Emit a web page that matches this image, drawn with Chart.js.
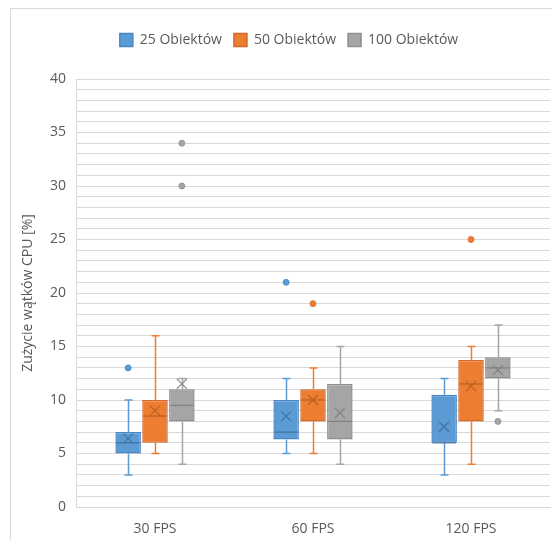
<!DOCTYPE html>
<html>
<head>
<meta charset="utf-8">
<script src="https://cdn.jsdelivr.net/npm/chart.js@4/dist/chart.umd.min.js"></script>
<style>
  html, body { margin: 0; padding: 0; background: #ffffff; }
  #wrap { width: 552px; height: 540px; position: relative; }
</style>
</head>
<body>
<div id="wrap"><canvas id="c" width="552" height="540"></canvas></div>
<script>
// Categories and series
const categories = ['30 FPS', '60 FPS', '120 FPS'];
const seriesNames = ['25 Obiektów', '50 Obiektów', '100 Obiektów'];

// 25 objects
const min25  = [3, 5, 3];
const q1_25  = [5, 6.3, 6];
const med25  = [6, 7, 6];
const q3_25  = [7, 10, 10.5];
const max25  = [10, 12, 12];
const mean25 = [6.4, 8.5, 7.5];
const out25  = [[13], [21], []];

// 50 objects
const min50  = [5, 5, 4];
const q1_50  = [6, 8, 8];
const med50  = [8.5, 10, 11.5];
const q3_50  = [10, 11, 13.75];
const max50  = [16, 13, 15];
const mean50 = [9, 10, 11.3];
const out50  = [[], [19], [25]];

// 100 objects
const min100  = [4, 4, 9];
const q1_100  = [8, 6.3, 12];
const med100  = [9.5, 8, 13];
const q3_100  = [11, 11.5, 14];
const max100  = [12, 15, 17];
const mean100 = [11.5, 8.8, 12.8];
const out100  = [[30, 34], [], [8]];

// Axis
const yMin = 0, yMax = 40, yStep = 1, yLabelEvery = 5;

const palette = [
  { fill: '#5B9BD5', edge: '#4A86C2', dark: '#41719C' },
  { fill: '#ED7D31', edge: '#D4692A', dark: '#B85F22' },
  { fill: '#A5A5A5', edge: '#8E8E8E', dark: '#7F7F7F' }
];

function makeSet(i, q1, q3, min, med, max, mean, out) {
  return {
    label: seriesNames[i],
    data: categories.map((_, k) => [q1[k], q3[k]]),
    backgroundColor: palette[i].fill,
    borderColor: palette[i].edge,
    borderWidth: 1.5,
    borderSkipped: false,
    categoryPercentage: 0.51,
    barPercentage: 0.95,
    stats: { min, med, max, mean, out },
    colors: palette[i]
  };
}

const datasets = [
  makeSet(0, q1_25, q3_25, min25, med25, max25, mean25, out25),
  makeSet(1, q1_50, q3_50, min50, med50, max50, mean50, out50),
  makeSet(2, q1_100, q3_100, min100, med100, max100, mean100, out100)
];

// Whiskers behind the boxes; medians, means and outliers on top
const boxWhiskers = {
  id: 'boxWhiskers',
  beforeDatasetsDraw(chart) {
    const ctx = chart.ctx, y = chart.scales.y;
    chart.data.datasets.forEach((ds, d) => {
      const meta = chart.getDatasetMeta(d);
      if (meta.hidden) return;
      meta.data.forEach((el, k) => {
        const x = Math.round(el.x) + 0.5;
        const [q1, q3] = ds.data[k];
        const yMinP = y.getPixelForValue(ds.stats.min[k]);
        const yMaxP = y.getPixelForValue(ds.stats.max[k]);
        const capW = 4;
        ctx.save();
        ctx.strokeStyle = ds.colors.fill;
        ctx.lineWidth = 1.5;
        ctx.beginPath();
        ctx.moveTo(x, y.getPixelForValue(q3)); ctx.lineTo(x, yMaxP);
        ctx.moveTo(x - capW, yMaxP); ctx.lineTo(x + capW, yMaxP);
        ctx.moveTo(x, y.getPixelForValue(q1)); ctx.lineTo(x, yMinP);
        ctx.moveTo(x - capW, yMinP); ctx.lineTo(x + capW, yMinP);
        ctx.stroke();
        ctx.restore();
      });
    });
  },
  afterDatasetsDraw(chart) {
    const ctx = chart.ctx, y = chart.scales.y;
    chart.data.datasets.forEach((ds, d) => {
      const meta = chart.getDatasetMeta(d);
      if (meta.hidden) return;
      meta.data.forEach((el, k) => {
        const x = el.x, half = el.width / 2;
        ctx.save();
        // median
        const ym = y.getPixelForValue(ds.stats.med[k]);
        ctx.strokeStyle = ds.colors.dark;
        ctx.lineWidth = 1.2;
        ctx.beginPath();
        ctx.moveTo(x - half + 1, ym); ctx.lineTo(x + half - 1, ym);
        ctx.stroke();
        // mean marker
        const yv = y.getPixelForValue(ds.stats.mean[k]);
        const s = 5;
        ctx.lineWidth = 1.1;
        ctx.beginPath();
        ctx.moveTo(x - s, yv - s); ctx.lineTo(x + s, yv + s);
        ctx.moveTo(x - s, yv + s); ctx.lineTo(x + s, yv - s);
        ctx.stroke();
        // outliers
        ctx.fillStyle = ds.colors.fill;
        ctx.strokeStyle = ds.colors.edge;
        ctx.lineWidth = 0.8;
        ds.stats.out[k].forEach(v => {
          ctx.beginPath();
          ctx.arc(x, y.getPixelForValue(v), 3, 0, Math.PI * 2);
          ctx.fill();
          ctx.stroke();
        });
        ctx.restore();
      });
    });
  }
};

// Outer frame of the chart
const frame = {
  id: 'frame',
  beforeDraw(chart) {
    const ctx = chart.ctx;
    ctx.save();
    ctx.fillStyle = '#ffffff';
    ctx.fillRect(0, 0, chart.width, chart.height);
    ctx.strokeStyle = '#D9D9D9';
    ctx.lineWidth = 1;
    ctx.strokeRect(10.5, 8.5, chart.width + 20, chart.height + 20);
    ctx.restore();
  }
};

// Extra space under the legend, and the legend centred on the full frame width
const legendGap = {
  id: 'legendGap',
  beforeInit(chart) {
    const legend = chart.legend;
    const fit = legend.fit;
    legend.fit = function () {
      fit.call(legend);
      this.height += 22;
    };
    const draw = legend.draw;
    legend.draw = function () {
      const ctx = chart.ctx;
      ctx.save();
      ctx.translate(9, 0);
      draw.call(legend);
      ctx.restore();
    };
  }
};

Chart.defaults.font.family = "'Open Sans', 'DejaVu Sans', sans-serif";
Chart.defaults.font.size = 14;
Chart.defaults.color = '#595959';

new Chart(document.getElementById('c'), {
  type: 'bar',
  data: { labels: categories, datasets },
  options: {
    responsive: false,
    animation: false,
    layout: { padding: { left: 10, right: 2, top: 21, bottom: 0 } },
    plugins: {
      legend: {
        position: 'top',
        labels: {
          boxWidth: 13,
          boxHeight: 13,
          padding: 12,
          color: '#595959',
          font: { size: 14 }
        }
      },
      tooltip: { enabled: false }
    },
    scales: {
      x: {
        grid: { display: false, drawTicks: false },
        border: { display: true, color: '#D9D9D9' },
        ticks: { padding: 14, color: '#595959', font: { size: 14 } },
        afterFit(scale) { scale.height = 33; }
      },
      y: {
        min: yMin,
        max: yMax,
        grid: { color: '#D9D9D9', drawTicks: false },
        border: { display: true, color: '#D9D9D9' },
        ticks: {
          stepSize: yStep,
          autoSkip: false,
          padding: 10,
          color: '#595959',
          font: { size: 14 },
          callback: v => (v % yLabelEvery === 0 ? v : '')
        },
        title: {
          display: true,
          text: 'Zużycie wątków CPU [%]',
          color: '#595959',
          font: { size: 14 },
          padding: { top: 10, bottom: 0 }
        },
        afterFit(scale) { scale.width = 66; }
      }
    }
  },
  plugins: [frame, legendGap, boxWhiskers]
});
</script>
</body>
</html>
